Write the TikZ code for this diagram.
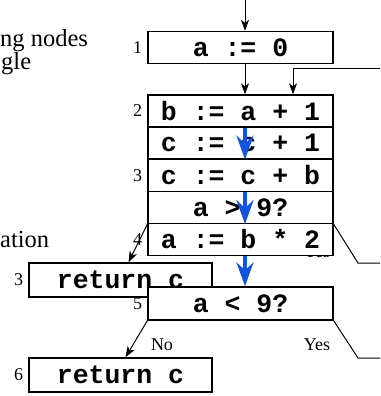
\documentclass[tikz,border=0pt]{standalone}
\usepackage{fontspec}
\setmainfont{Liberation Serif}
\setmonofont{Liberation Mono}
\usepackage{xcolor}
\usepackage{tikz}
\usetikzlibrary{positioning, arrows.meta}
\definecolor{flowblue}{RGB}{18,84,222}

\tikzset{
  stmt/.style={draw, fill=white, line width=1.3pt, minimum width=185pt,
    minimum height=32pt, inner sep=0pt,
    font=\fontsize{26.5}{28}\selectfont\ttfamily\bfseries},
  num/.style={inner sep=0pt, font=\fontsize{18}{20}\selectfont},
  side/.style={anchor=base west, inner sep=0pt, font=\fontsize{24.5}{26}\selectfont},
  link/.style={line width=1pt},
  arr/.style={link, -{Stealth[length=11pt,width=8pt,inset=3pt]}},
  flow/.style={draw=flowblue, line width=3.5pt,
    -{Stealth[length=24pt,width=17pt,inset=8pt]}},
}

\begin{document}
\begin{tikzpicture}[x=1pt, y=-1pt]
    \useasboundingbox (0,0) rectangle (380,396);

    % Side text
    \node[side] (s1) at (0,47) {ng nodes};
    \node[side] (s2) at (1,70) {gle};
    \node[side] (s3) at (0,247) {ation};

    % Block 1 to 3
    \node[stmt] (b1) at (240.5,47.5) {a := 0};
    \node[stmt] (b2) at (240.5,111) {b := a + 1};
    \node[stmt] (c1) at (240.5,143) {c := c + 1};
    \node[stmt] (b3) at (240.5,175.5) {c := c + b};
    \node[stmt] (t1) at (240.5,207.5) {a > 9?};
    \node[num, left=5pt of b1] {1};
    \node[num, left=5pt of b2] {2};
    \node[num, left=5pt of b3] {3};

    \coordinate (entry) at (245,0);
    \coordinate (back) at (380,69);
    \draw[arr] (entry) -- ([xshift=4.5pt]b1.north);
    \draw[arr] ([xshift=4.5pt]b1.south) -- ([xshift=4.5pt]b2.north);
    \draw[arr] (back) -| ([xshift=52.5pt]b2.north);

    % Test a > 9
    \node[stmt, minimum width=183pt, minimum height=34pt] (ret3) at (120.5,280) {return c};
    \node[num, left=5pt of ret3] {3};
    \coordinate (yes1) at (380,263);
    \draw[arr] (t1.south west) -- ([xshift=8pt]ret3.north);
    \draw[link] (t1.south east) -- ([xshift=-22pt]yes1) -- (yes1);
    \node[num] (y1) at (317,252) {Yes};

    % Block 4, 5
    \node[stmt] (b4) at (240.5,239.5) {a := b * 2};
    \node[num, left=5pt of b4] {4};
    \node[stmt, minimum height=33pt] (b5) at (240.5,303.5) {a < 9?};
    \node[num, left=5pt of b5] {5};

    % Test a < 9
    \coordinate (yes2) at (380,358);
    \node[stmt, minimum width=183pt, minimum height=34pt] (ret6) at (120.5,375) {return c};
    \node[num, left=5pt of ret6] {6};
    \draw[arr] (b5.south west) -- ([xshift=5pt]ret6.north);
    \draw[link] (b5.south east) -- ([xshift=-22pt]yes2) -- (yes2);
    \node[num] (n2) at (162,345) {No};
    \node[num] (y2) at (317,345) {Yes};

    % Flow through the merged block
    \draw[flow] ([xshift=4.5pt]b2.south) -- ([xshift=4.5pt]c1.south);
    \draw[flow] ([xshift=4.5pt]b3.south) -- ([xshift=4.5pt]t1.south);
    \draw[flow] ([xshift=4.5pt]b4.south) -- ([xshift=4.5pt]b5.north);
\end{tikzpicture}
\end{document}
